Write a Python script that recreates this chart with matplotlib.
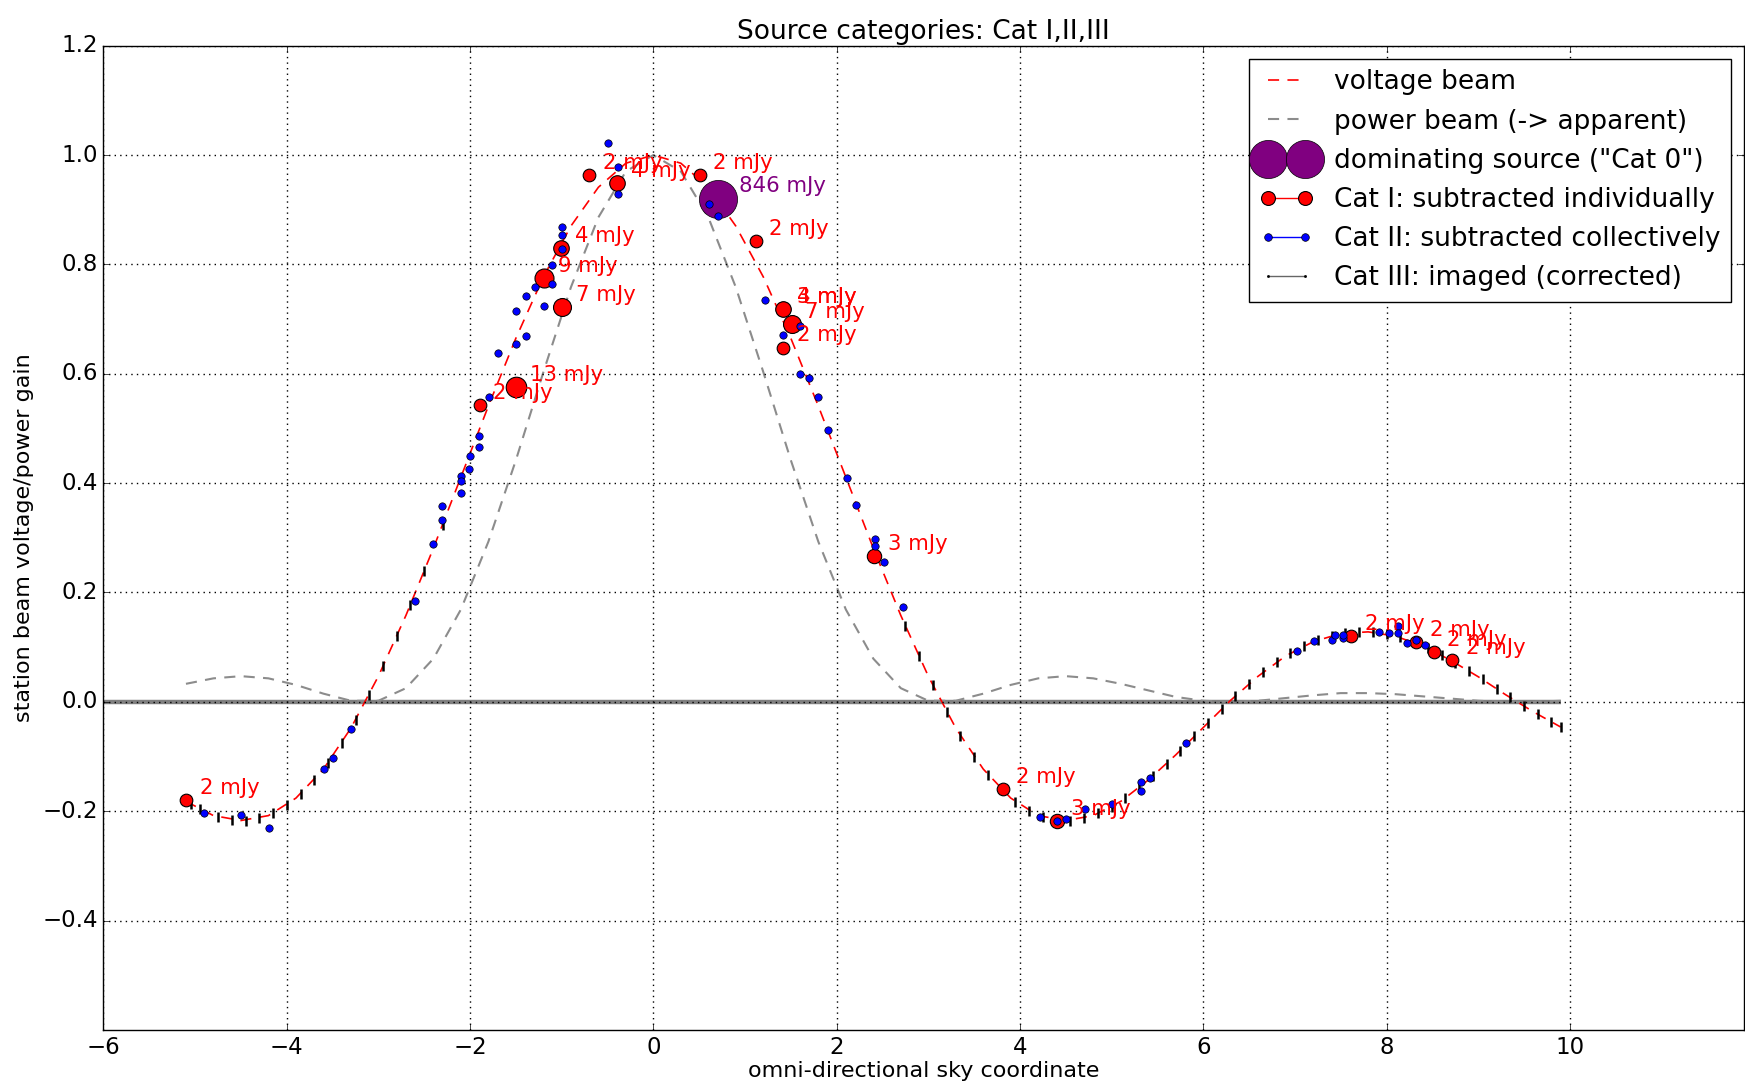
import matplotlib
matplotlib.use('Agg')
import matplotlib.pyplot as plt
from matplotlib.lines import Line2D
import numpy as np

# ---------------- data ----------------
beam_x = [-5.1, -4.8, -4.5, -4.2, -3.9, -3.6, -3.3, -3.0, -2.7, -2.4, -2.1, -1.8, -1.5,
          -1.2, -0.9, -0.6, -0.3, 0.0, 0.3, 0.6, 0.9, 1.2, 1.5, 1.8, 2.1, 2.4, 2.7, 3.0,
          3.3, 3.6, 3.9, 4.2, 4.5, 4.8, 5.1, 5.4, 5.7, 6.0, 6.3, 6.6, 6.9, 7.2, 7.5, 7.8,
          8.1, 8.4, 8.7, 9.0, 9.3, 9.6, 9.9]
voltage_beam = [-0.182, -0.208, -0.217, -0.208, -0.176, -0.123, -0.048, 0.047, 0.158, 0.281,
                0.411, 0.541, 0.665, 0.777, 0.870, 0.941, 0.985, 1.000, 0.985, 0.941, 0.870,
                0.777, 0.665, 0.541, 0.411, 0.281, 0.158, 0.047, -0.048, -0.123, -0.176,
                -0.208, -0.217, -0.208, -0.182, -0.143, -0.097, -0.047, 0.003, 0.047, 0.084,
                0.110, 0.125, 0.128, 0.120, 0.102, 0.076, 0.046, 0.013, -0.018, -0.046]
power_beam = [0.033, 0.043, 0.047, 0.043, 0.031, 0.015, 0.002, 0.002, 0.025, 0.079, 0.169,
              0.293, 0.442, 0.603, 0.758, 0.886, 0.970, 1.000, 0.970, 0.886, 0.758, 0.603,
              0.442, 0.293, 0.169, 0.079, 0.025, 0.002, 0.002, 0.015, 0.031, 0.043, 0.047,
              0.043, 0.033, 0.021, 0.009, 0.002, 0.000, 0.002, 0.007, 0.012, 0.016, 0.016,
              0.014, 0.010, 0.006, 0.002, 0.000, 0.000, 0.002]

# dominating source (Cat 0)
cat0_x = [0.709]
cat0_y = [0.920]
cat0_flux = [846]

# Cat I: subtracted individually
cat1_x = [-5.10, -1.895, -1.494, -1.192, -1.003, -0.995, -0.697, -0.394, 0.505, 1.116,
          1.415, 1.420, 1.510, 1.415, 2.409, 3.811, 4.404, 7.616, 8.325, 8.515, 8.719]
cat1_y = [-0.180, 0.543, 0.575, 0.7745, 0.8305, 0.7215, 0.963, 0.949, 0.963, 0.842,
          0.718, 0.718, 0.691, 0.648, 0.2666, -0.1596, -0.218, 0.1203, 0.1087, 0.0915, 0.0763]
cat1_flux = [2, 2, 13, 9, 4, 7, 2, 4, 2, 2, 3, 4, 7, 2, 3, 2, 3, 2, 2, 2, 2]

# Cat II: subtracted collectively
cat2_x = [-4.902, -4.498, -4.192, -3.599, -3.501, -3.297, -2.598, -2.40, -2.306, -2.306,
          -2.10, -2.10, -2.10, -2.01, -2.0, -1.905, -1.905, -1.797, -1.694, -1.494, -1.494,
          -1.393, -1.393, -1.29, -1.189, -1.101, -1.101, -1.0, -1.0, -1.0, -0.493, -0.391,
          -0.391, 0.611, 0.709, 1.215, 1.415, 1.597, 1.600, 1.703, 1.801, 1.906, 2.110,
          2.212, 2.413, 2.413, 2.518, 2.722, 4.219, 4.404, 4.506, 4.71, 5.008, 5.318, 5.318,
          5.417, 5.813, 7.022, 7.208, 7.41, 7.44, 7.52, 7.53, 7.921, 8.023, 8.126, 8.126,
          8.227, 8.325, 8.416]
cat2_y = [-0.204, -0.206, -0.230, -0.122, -0.102, -0.050, 0.185, 0.289, 0.358, 0.332,
          0.413, 0.403, 0.382, 0.425, 0.449, 0.486, 0.466, 0.557, 0.638, 0.655, 0.714,
          0.6695, 0.743, 0.759, 0.724, 0.765, 0.798, 0.869, 0.854, 0.8276, 1.0215, 0.978,
          0.929, 0.910, 0.8885, 0.7354, 0.670, 0.687, 0.5995, 0.5916, 0.557, 0.498, 0.409,
          0.360, 0.297, 0.285, 0.2556, 0.1738, -0.2109, -0.218, -0.2139, -0.196, -0.187,
          -0.1463, -0.1627, -0.140, -0.076, 0.0934, 0.111, 0.113, 0.122, 0.116, 0.123,
          0.128, 0.126, 0.1385, 0.126, 0.1069, 0.113, 0.1038]

# Cat III: imaged (corrected)
cat3_x = [-5.05, -4.95, -4.75, -4.6, -4.45, -4.3, -4.15, -4.0, -3.85, -3.7, -3.55, -3.4,
          -3.25, -3.1, -2.95, -2.8, -2.65, -2.5, -2.3,
          2.75, 2.9, 3.05, 3.2, 3.35, 3.5, 3.65, 3.8, 3.95, 4.1, 4.25,
          4.55, 4.7, 4.85, 5.0, 5.15, 5.3, 5.45, 5.6, 5.75, 5.9, 6.05, 6.2, 6.35, 6.5, 6.65,
          6.8, 6.95, 7.1, 7.25, 7.4, 7.55, 7.7, 7.85, 8.0, 8.15, 8.3, 8.45, 8.6, 8.75, 8.9,
          9.05, 9.2, 9.35, 9.5, 9.65, 9.8, 9.9]
cat3_y = [-0.187, -0.196, -0.210, -0.216, -0.217, -0.213, -0.204, -0.189, -0.169, -0.143,
          -0.112, -0.075, -0.033, 0.013, 0.065, 0.120, 0.178, 0.239, 0.324,
          0.139, 0.083, 0.030, -0.018, -0.062, -0.100, -0.133, -0.161, -0.184, -0.200, -0.211,
          -0.217, -0.213, -0.204, -0.192, -0.176, -0.157, -0.136, -0.113, -0.089, -0.063,
          -0.038, -0.013, 0.011, 0.033, 0.054, 0.073, 0.089, 0.103, 0.114, 0.121, 0.126,
          0.128, 0.127, 0.124, 0.118, 0.109, 0.098, 0.085, 0.071, 0.056, 0.041, 0.024, 0.008,
          -0.008, -0.023, -0.037, -0.046]

x_ticks = [-6, -4, -2, 0, 2, 4, 6, 8, 10]
y_ticks = [-0.4, -0.2, 0.0, 0.2, 0.4, 0.6, 0.8, 1.0, 1.2]

# ---------------- style ----------------
plt.style.use('classic')
plt.rcParams['font.family'] = ['DejaVu Sans']
plt.rcParams['savefig.facecolor'] = 'white'
plt.rcParams['lines.scale_dashes'] = False

DASH = (8, 6)


def msize(flux):
    return 7.0 + 7.0 * np.log10(flux)


fig = plt.figure(figsize=(17.45, 10.82), dpi=100, facecolor='white')
ax = fig.add_axes([0.0593, 0.0481, 0.9401, 0.9097])

ax.set_xlim(-6, 11.9)
ax.set_ylim(-0.6, 1.2)

l1, = ax.plot(beam_x, power_beam, color='0.55', lw=1.5, zorder=2)
l1.set_dashes(DASH)
l2, = ax.plot(beam_x, voltage_beam, color='red', lw=1.2, zorder=2)
l2.set_dashes(DASH)
ax.hlines(0, -6, beam_x[-1], color='0.5', lw=3.2, zorder=1.5)

ax.plot(cat3_x, cat3_y, ls='none', marker='|', ms=7.5, mew=1.8, color='k', zorder=3)

for x, y, f in zip(cat0_x, cat0_y, cat0_flux):
    ax.plot([x], [y], ls='none', marker='o', color='purple', ms=msize(f), mec='k',
            mew=0.5, zorder=4)
    ax.text(x + 0.225, y + 0.023, f'{f} mJy', color='purple', fontsize=15.3,
            ha='left', va='center', zorder=8)

for x, y, f in zip(cat1_x, cat1_y, cat1_flux):
    ax.plot([x], [y], ls='none', marker='o', color='red', ms=msize(f), mec='k',
            mew=0.8, zorder=5)
    ax.text(x + 0.15, y + 0.022, f'{f} mJy', color='red', fontsize=15.3,
            ha='left', va='center', zorder=8)

ax.plot(cat2_x, cat2_y, ls='none', marker='o', color='blue', ms=5.3, mec='k', mew=0.5,
        zorder=6)

ax.set_xticks(x_ticks)
ax.set_yticks(y_ticks)
ax.tick_params(labelsize=16.5)
ax.grid(True, color='k', linestyle=':', linewidth=1.0)

ax.set_title('Source categories: Cat I,II,III', fontsize=19)
ax.set_xlabel('omni-directional sky coordinate', fontsize=16, labelpad=2)
ax.set_ylabel('station beam voltage/power gain', fontsize=16, labelpad=6)

h1 = Line2D([], [], color='red', lw=1.2)
h1.set_dashes(DASH)
h2 = Line2D([], [], color='0.55', lw=1.5)
h2.set_dashes(DASH)
handles = [
    h1, h2,
    Line2D([], [], ls='none', marker='o', color='purple', ms=msize(cat0_flux[0]), mec='k', mew=0.5),
    Line2D([], [], ls='-', marker='o', color='red', ms=10, mec='k', mew=0.8, lw=1),
    Line2D([], [], ls='-', marker='o', color='blue', ms=5.5, mec='k', mew=0.5, lw=1),
    Line2D([], [], ls='-', marker='.', color='0.4', mfc='k', mec='k', ms=3, lw=1),
]
labels = ['voltage beam', 'power beam (-> apparent)', 'dominating source ("Cat 0")',
          'Cat I: subtracted individually', 'Cat II: subtracted collectively',
          'Cat III: imaged (corrected)']
ax.legend(handles, labels, loc='upper right', fontsize=19, numpoints=2)

fig.savefig('out.png', dpi=100, facecolor='white')
